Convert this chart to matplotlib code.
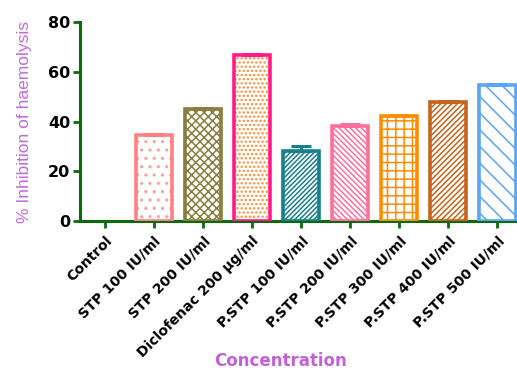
import matplotlib
matplotlib.use("Agg")
import matplotlib.pyplot as plt
from matplotlib import font_manager
import numpy as np

categories = ["Control", "STP 100 IU/ml", "STP 200 IU/ml", "Diclofenac 200 \u00b5g/ml",
              "P.STP 100 IU/ml", "P.STP 200 IU/ml", "P.STP 300 IU/ml",
              "P.STP 400 IU/ml", "P.STP 500 IU/ml"]
values = [0.0, 34.5, 45.0, 66.7, 28.2, 38.3, 42.2, 47.9, 54.6]
errors = [0.0, 0.5, 0.5, 0.6, 2.0, 0.6, 0.5, 0.5, 0.6]
edge_colors = ["#FFFFFF", "#FF8080", "#8B7D3E", "#FF1A8C", "#17808F",
               "#FF6F9C", "#FF8C00", "#C4651A", "#5AA5F5"]
hatch_colors = ["#FFFFFF", "#FFA0A0", "#8B7D3E", "#FF8A2A", "#17808F",
                "#FF6F9C", "#FF8C00", "#C4651A", "#5AA5F5"]
hatches = [None, "..", "xxxx", "....", "///////", "\\\\\\\\\\\\", "++", "//////", "\\\\"]

plt.rcParams["font.family"] = ["DejaVu Sans"]
plt.rcParams["hatch.linewidth"] = 1.1

installed = {f.name for f in font_manager.fontManager.ttflist}
if "Liberation Sans Narrow" in installed:
    ylab_font, ylab_size = "Liberation Sans Narrow", 15
else:
    ylab_font, ylab_size = "Liberation Sans", 12.5

fig = plt.figure(figsize=(5.17, 3.71), dpi=100)
ax = fig.add_axes([0.155, 0.404, 0.845, 0.537])

x = np.arange(len(categories))
width = 0.74
for i in range(len(categories)):
    if values[i] <= 0:
        continue
    # patterned fill
    ax.bar(x[i], values[i], width, color="white", edgecolor=hatch_colors[i],
           hatch=hatches[i], linewidth=0, zorder=2)
    # outline
    ax.bar(x[i], values[i], width, fill=False, edgecolor=edge_colors[i],
           linewidth=2.6, zorder=3)
    ax.errorbar(x[i], values[i], yerr=[[0], [errors[i]]], fmt="none",
                ecolor=edge_colors[i], elinewidth=2.2, capsize=7, capthick=2.2,
                zorder=3)

axis_green = "#0B6A0B"
ax.set_xlim(-0.5, 8.4)
ax.set_ylim(0, 80)
ax.set_yticks([0, 20, 40, 60, 80])
ax.set_xticks(x)
ax.set_xticklabels(categories, rotation=45, ha="right", rotation_mode="anchor",
                   fontsize=10, fontweight="bold")
for lbl in ax.get_yticklabels():
    lbl.set_fontweight("bold")
    lbl.set_fontsize(11.5)

for side in ["top", "right"]:
    ax.spines[side].set_visible(False)
for side in ["left", "bottom"]:
    ax.spines[side].set_color(axis_green)
    ax.spines[side].set_linewidth(2.2)
ax.tick_params(axis="both", colors=axis_green, width=2, length=5, labelcolor="black")
ax.tick_params(axis="x", pad=4)
ax.tick_params(axis="y", pad=2)

ax.set_ylabel("% Inhibition of haemolysis", color="#C36BDB", fontsize=ylab_size,
              family=ylab_font)
ax.yaxis.set_label_coords(-0.11, 0.5)
ax.set_xlabel("Concentration", color="#C360D9", fontsize=12, fontweight="bold")
ax.xaxis.set_label_coords(0.458, -0.655)

fig.savefig("out.png", dpi=100)
